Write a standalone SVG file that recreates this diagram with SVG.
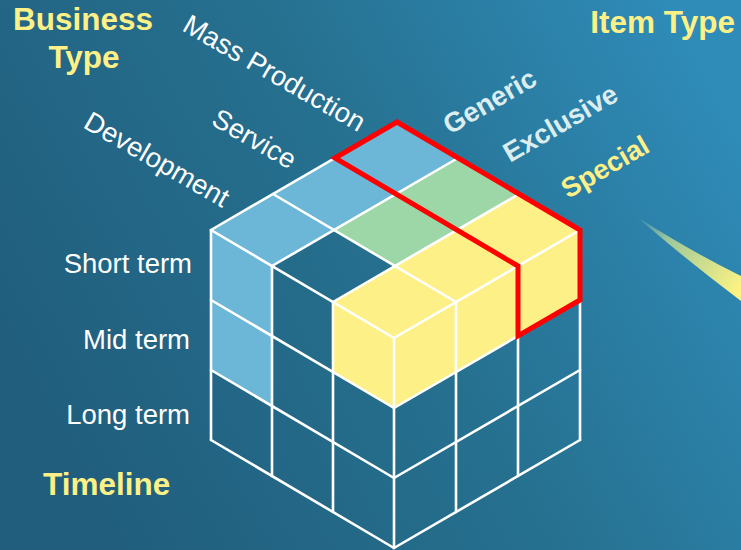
<svg xmlns="http://www.w3.org/2000/svg" width="741" height="550" viewBox="0 0 741 550">
<defs>
<linearGradient id="bg" x1="0" y1="0.6" x2="1" y2="0.2">
<stop offset="0" stop-color="#215e7d"/>
<stop offset="0.5" stop-color="#26708f"/>
<stop offset="1" stop-color="#2f8cb9"/>
</linearGradient>
<linearGradient id="sw" gradientUnits="userSpaceOnUse" x1="637" y1="217" x2="741" y2="290">
<stop offset="0" stop-color="#2e89b6"/>
<stop offset="0.3" stop-color="#9ec89a"/>
<stop offset="1" stop-color="#fef483"/>
</linearGradient>
<style>
.grid{stroke:#ffffff;stroke-width:2.6;fill:none;stroke-linecap:round}
.blue{fill:#6cb6d8}
.green{fill:#9dd7a8}
.yellow{fill:#fdf086}
.hl{fill:none;stroke:#ff0000;stroke-width:5;stroke-linejoin:miter}
.title{font-family:"Liberation Sans",Arial,sans-serif;font-weight:bold;font-size:31.5px;fill:#fdf086}
.lab{font-family:"Liberation Sans",Arial,sans-serif;font-size:27.5px;fill:#ffffff}
.lab2{font-family:"Liberation Sans",Arial,sans-serif;font-weight:bold;font-size:27.5px;fill:#dcedf0}
.lab3{font-family:"Liberation Sans",Arial,sans-serif;font-weight:bold;font-size:27.5px;fill:#fdf086}
</style>
</defs>
<rect width="741" height="550" fill="url(#bg)"/>
<path id="swoosh" d="M637,217 Q692,252 741,276 L741,301 Q684,258 637,217 Z" fill="url(#sw)"/>
<g id="cube">
<g id="faces">
<polygon class="blue" points="397,122 458,158 272,266 211,230"/>
<polygon class="green" points="458,158 519,194 395,266 334,230"/>
<polygon class="yellow" points="519,194 580,230 394,338 333,302"/>
<polygon class="blue" points="211,230 272,266 272,406 211,370"/>
<polygon class="yellow" points="333,302 394,338 394,408 333,372"/>
<polygon class="yellow" points="580,230 394,338 394,408 580,300"/>
</g>
<g id="grid" class="grid">
<path d="M397,122 L211,230 M458,158 L272,266 M519,194 L333,302 M580,230 L394,338"/>
<path d="M397,122 L580,230 M335,158 L518,266 M273,194 L456,302 M211,230 L394,338"/>
<path d="M211,230 V440 M272,266 V476 M333,302 V512 M394,338 V548"/>
<path d="M211,300 L394,408 M211,370 L394,478 M211,440 L394,548"/>
<path d="M580,230 V440 M518,266 V476 M456,302 V512"/>
<path d="M580,300 L394,408 M580,370 L394,478 M580,440 L394,548"/>
</g>
<polygon id="highlight" class="hl" points="335,158 397,122 580,230 580,300 518,336 518,266"/>
</g>
<g id="labels">
<text class="title" x="13" y="30">Business</text>
<text class="title" x="84" y="68" text-anchor="middle">Type</text>
<text class="title" x="735" y="33" text-anchor="end">Item Type</text>
<text class="title" x="43" y="495">Timeline</text>
<text class="lab" x="192" y="273" text-anchor="end">Short term</text>
<text class="lab" x="190" y="349" text-anchor="end">Mid term</text>
<text class="lab" x="190" y="424" text-anchor="end">Long term</text>
<text class="lab" transform="translate(82,127) rotate(30)">Development</text>
<text class="lab" transform="translate(210,124) rotate(30)">Service</text>
<text class="lab" transform="translate(181,30) rotate(30)">Mass Production</text>
<text class="lab2" transform="translate(450,135) rotate(-30)">Generic</text>
<text class="lab2" transform="translate(510,163) rotate(-30)">Exclusive</text>
<text class="lab3" transform="translate(568,199) rotate(-30)">Special</text>
</g>
</svg>
